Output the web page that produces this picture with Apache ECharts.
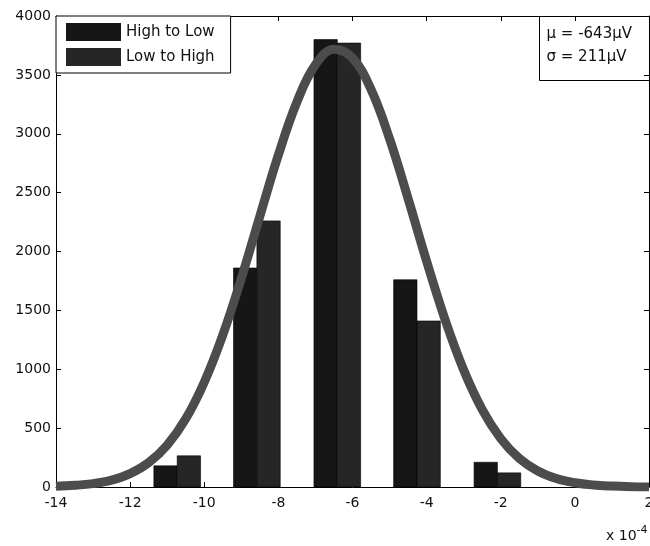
<!DOCTYPE html>
<html>
<head>
<meta charset="utf-8">
<script src="https://cdn.jsdelivr.net/npm/echarts@6/dist/echarts.min.js"></script>
<style>
  html, body { margin: 0; padding: 0; background: #fff; }
  #chart { width: 650px; height: 546px; }
</style>
</head>
<body>
<div id="chart"></div>
<script>
// Histogram bin centres (units of 1e-4 V) and counts for each sweep direction
const binCenters = [-10.73, -8.58, -6.41, -4.26, -2.09];
const highToLow = [180, 1860, 3800, 1760, 210];
const lowToHigh = [265, 2260, 3770, 1410, 120];

// Fitted normal curve sampled along the x range
const curveX = [-14, -13.5, -13, -12.5, -12, -11.5, -11, -10.5, -10, -9.5, -9, -8.5, -8, -7.5, -7, -6.5,
                -6, -5.5, -5, -4.5, -4, -3.5, -3, -2.5, -2, -1.5, -1, -0.5, 0, 0.5, 1, 1.5, 2];
const curveY = [6, 14, 29, 59, 114, 207, 356, 579, 890, 1291, 1771, 2300, 2820, 3270, 3587, 3718,
                3643, 3376, 2957, 2449, 1917, 1419, 993, 657, 411, 243, 136, 72, 36, 17, 8, 3, 1];

const xTicks = [-14, -12, -10, -8, -6, -4, -2, 0, 2];
const yTicks = [0, 500, 1000, 1500, 2000, 2500, 3000, 3500, 4000];

const fitLabels = ['\u03bc = -643\u03bcV', '\u03c3 = 211\u03bcV'];

const HALF_W = 0.63; // width of one bar in x units

function barRenderer(side) {
  return function (params, api) {
    const c = api.value(0);
    const v = api.value(1);
    const x0 = side < 0 ? c - HALF_W : c;
    const x1 = side < 0 ? c : c + HALF_W;
    const p0 = api.coord([x0, v]);
    const p1 = api.coord([x1, 0]);
    return {
      type: 'rect',
      shape: { x: p0[0], y: p0[1], width: p1[0] - p0[0], height: p1[1] - p0[1] },
      style: api.style({ stroke: '#000', lineWidth: 0.6 })
    };
  };
}

const FONT = 'DejaVu Sans';
const chart = echarts.init(document.getElementById('chart'), null, { renderer: 'canvas' });

const axisCommon = {
  type: 'value',
  axisLine: { show: true, onZero: false, lineStyle: { color: '#000', width: 1 } },
  axisTick: { show: true, inside: true, length: 5, lineStyle: { color: '#000' } },
  splitLine: { show: false }
};

chart.setOption({
  animation: false,
  backgroundColor: '#fff',
  grid: { left: 56, top: 16, width: 593, height: 471, containLabel: false, outerBoundsMode: 'none' },
  xAxis: [
    Object.assign({}, axisCommon, {
      position: 'bottom', min: xTicks[0], max: xTicks[xTicks.length - 1], interval: 2,
      axisLabel: { color: '#111', fontFamily: FONT, fontSize: 14, margin: 9, showMaxLabel: true, showMinLabel: true }
    }),
    Object.assign({}, axisCommon, {
      position: 'top', min: xTicks[0], max: xTicks[xTicks.length - 1], interval: 2,
      axisLabel: { show: false }
    })
  ],
  yAxis: [
    Object.assign({}, axisCommon, {
      position: 'left', min: yTicks[0], max: yTicks[yTicks.length - 1], interval: 500,
      axisLabel: { color: '#111', fontFamily: FONT, fontSize: 14, margin: 5, formatter: v => String(v) }
    }),
    Object.assign({}, axisCommon, {
      position: 'right', min: yTicks[0], max: yTicks[yTicks.length - 1], interval: 500,
      axisLabel: { show: false }
    })
  ],
  legend: {
    data: ['High to Low', 'Low to High'],
    orient: 'vertical',
    left: 56, top: 16,
    icon: 'rect',
    itemWidth: 55, itemHeight: 18, itemGap: 7,
    padding: [7, 16, 7, 10],
    backgroundColor: '#fff',
    borderColor: '#000', borderWidth: 1, borderRadius: 0,
    textStyle: { color: '#111', fontFamily: FONT, fontSize: 15 },
    selectedMode: false,
    z: 20
  },
  series: [
    {
      name: 'High to Low', type: 'custom', xAxisIndex: 0, yAxisIndex: 0,
      renderItem: barRenderer(-1),
      itemStyle: { color: '#161616' },
      encode: { x: 0, y: 1 },
      data: binCenters.map((c, i) => [c, highToLow[i]]),
      z: 2
    },
    {
      name: 'Low to High', type: 'custom', xAxisIndex: 0, yAxisIndex: 0,
      renderItem: barRenderer(1),
      itemStyle: { color: '#262626' },
      encode: { x: 0, y: 1 },
      data: binCenters.map((c, i) => [c, lowToHigh[i]]),
      z: 2
    },
    {
      name: 'Fit', type: 'line', xAxisIndex: 0, yAxisIndex: 0,
      data: curveX.map((x, i) => [x, curveY[i]]),
      smooth: 0.4, showSymbol: false, symbol: 'none',
      lineStyle: { color: '#4c4c4c', width: 9 },
      z: 5
    }
  ],
  graphic: [
    {
      type: 'group', left: 539, top: 16, z: 30,
      children: [
        { type: 'rect', shape: { x: 0, y: 0, width: 120, height: 64 },
          style: { fill: '#fff', stroke: '#000', lineWidth: 1 } },
        { type: 'text', x: 7, y: 10, style: { text: fitLabels[0], fill: '#111', font: '15px "DejaVu Sans"' } },
        { type: 'text', x: 7, y: 33, style: { text: fitLabels[1], fill: '#111', font: '15px "DejaVu Sans"' } }
      ]
    },
    {
      type: 'text', left: 606, top: 525, z: 30,
      style: {
        text: 'x 10{sup|-4}',
        fill: '#111',
        font: '14px "DejaVu Sans"',
        rich: { sup: { fontSize: 11, fontFamily: FONT, verticalAlign: 'top', padding: [0, 0, 12, 0], fill: '#111' } }
      }
    }
  ]
});
</script>
</body>
</html>
